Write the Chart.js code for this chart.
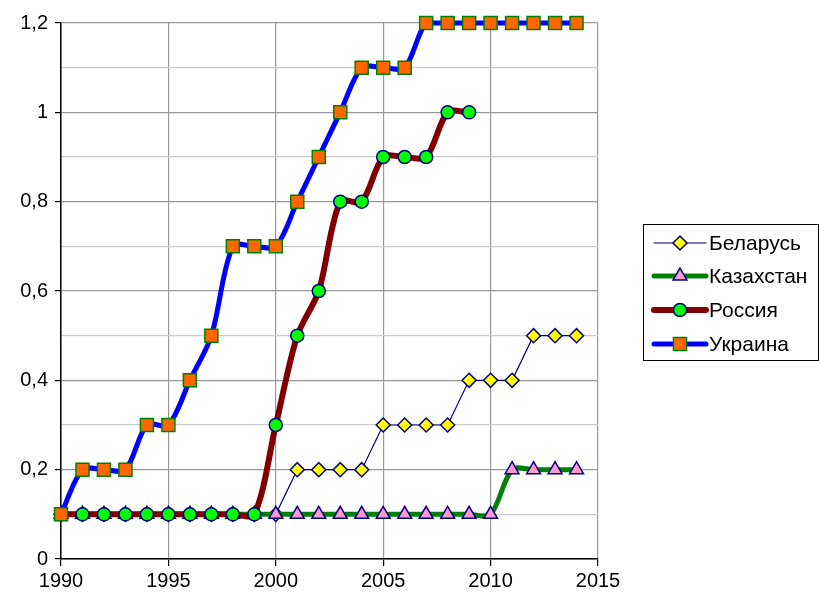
<!DOCTYPE html>
<html>
<head>
<meta charset="utf-8">
<script src="https://cdn.jsdelivr.net/npm/chart.js@4.4.0/dist/chart.umd.min.js"></script>
<style>
html,body{margin:0;padding:0;background:#fff;}
#wrap{position:relative;width:819px;height:596px;}
</style>
</head>
<body>
<div id="wrap"><canvas id="c" width="819" height="596"></canvas></div>
<script>
const years = [1990,1991,1992,1993,1994,1995,1996,1997,1998,1999,2000,2001,2002,2003,2004,2005,2006,2007,2008,2009,2010,2011,2012,2013,2014];
const seriesNames = ['Беларусь','Казахстан','Россия','Украина'];
const belarus    = [0.1,0.1,0.1,0.1,0.1,0.1,0.1,0.1,0.1,0.1,0.1,0.2,0.2,0.2,0.2,0.3,0.3,0.3,0.3,0.4,0.4,0.4,0.5,0.5,0.5];
const kazakhstan = [0.1,0.1,0.1,0.1,0.1,0.1,0.1,0.1,0.1,0.1,0.1,0.1,0.1,0.1,0.1,0.1,0.1,0.1,0.1,0.1,0.1,0.2,0.2,0.2,0.2];
const russia     = [0.1,0.1,0.1,0.1,0.1,0.1,0.1,0.1,0.1,0.1,0.3,0.5,0.6,0.8,0.8,0.9,0.9,0.9,1.0,1.0];
const ukraine    = [0.1,0.2,0.2,0.2,0.3,0.3,0.4,0.5,0.7,0.7,0.7,0.8,0.9,1.0,1.1,1.1,1.1,1.2,1.2,1.2,1.2,1.2,1.2,1.2,1.2];
const xTicks = [1990,1995,2000,2005,2010,2015];

const toXY = arr => arr.map((v,i)=>({x:years[i], y:v}));

const styles = [
  {line:'#000080', width:1.2, tension:0, point:'rectRot', fill:'#FFFF00', border:'#000080', r:7, order:3},
  {line:'#008000', width:5, tension:0.3, point:'triangle', fill:'#FF99CC', border:'#000080', r:8, order:2},
  {line:'#800000', width:6, tension:0.3, point:'circle', fill:'#00FF00', border:'#000080', r:6.5, order:1},
  {line:'#0000FF', width:5, tension:0.3, point:'rect', fill:'#FF6600', border:'#008000', r:9.2, order:0}
];
const allData = [belarus, kazakhstan, russia, ukraine];

const datasets = allData.map((d,i)=>({
  label: seriesNames[i],
  data: toXY(d),
  borderColor: styles[i].line,
  borderWidth: styles[i].width,
  tension: styles[i].tension,
  pointStyle: styles[i].point,
  pointBackgroundColor: styles[i].fill,
  pointBorderColor: styles[i].border,
  pointBorderWidth: 1.5,
  pointRadius: styles[i].r,
  pointHoverRadius: styles[i].r,
  order: styles[i].order,
  clip: false,
  fill: false
}));

function drawMarker(ctx, st, x, y){
  ctx.save();
  ctx.fillStyle = st.fill; ctx.strokeStyle = st.border; ctx.lineWidth = 1.5;
  ctx.beginPath();
  if(st.point==='rectRot'){const r=st.r; ctx.moveTo(x,y-r);ctx.lineTo(x+r,y);ctx.lineTo(x,y+r);ctx.lineTo(x-r,y);ctx.closePath();}
  else if(st.point==='triangle'){const r=st.r; ctx.moveTo(x,y-r);ctx.lineTo(x+r*0.866,y+r*0.5);ctx.lineTo(x-r*0.866,y+r*0.5);ctx.closePath();}
  else if(st.point==='circle'){ctx.arc(x,y,st.r,0,Math.PI*2);}
  else {const s=st.r*Math.SQRT1_2; ctx.rect(x-s,y-s,2*s,2*s);}
  ctx.fill(); ctx.stroke();
  ctx.restore();
}

const legendPlugin = {
  id:'boxLegend',
  afterDraw(chart){
    const ctx = chart.ctx;
    ctx.save();
    ctx.strokeStyle = '#000'; ctx.lineWidth = 1;
    ctx.strokeRect(643.5, 224.5, 175, 136);
    const ys = [243, 276, 310, 344];
    ctx.font = '21px "Liberation Sans", Arial, sans-serif';
    ctx.textBaseline = 'middle';
    seriesNames.forEach((n,i)=>{
      const st = styles[i];
      ctx.strokeStyle = st.line; ctx.lineWidth = st.width; ctx.lineCap='round';
      ctx.beginPath(); ctx.moveTo(654, ys[i]); ctx.lineTo(706, ys[i]); ctx.stroke();
      drawMarker(ctx, st, 680, ys[i]);
      ctx.fillStyle = '#000';
      ctx.fillText(n, 709, ys[i]+1);
    });
    ctx.restore();
  }
};

Chart.defaults.font.family = '"Liberation Sans", Arial, sans-serif';
Chart.defaults.font.size = 20;
Chart.defaults.color = '#000';

new Chart(document.getElementById('c'), {
  type:'line',
  data:{datasets},
  options:{
    responsive:false,
    animation:false,
    devicePixelRatio:1,
    layout:{padding:{top:23, right:221, left:0, bottom:0}},
    plugins:{legend:{display:false}, tooltip:{enabled:false}},
    scales:{
      x:{
        type:'linear', min:1990, max:2015,
        afterBuildTicks(s){ s.ticks = xTicks.map(v=>({value:v})); },
        afterFit(s){ s.height = 37; },
        grid:{color:'#999', lineWidth:1.2, tickLength:7, tickColor:'#000', drawOnChartArea:true},
        border:{color:'#000', width:1.5},
        ticks:{padding:3, maxRotation:0, color:'#000', callback(v){ return String(v); }}
      },
      y:{
        min:0, max:1.2,
        ticks:{stepSize:0.1, padding:7, color:'#000',
          callback(v){ const k=Math.round(v*10); return k%2===0 ? String(Math.round(v*10)/10).replace('.',',') : ''; }},
        afterFit(s){ s.width = 61; },
        grid:{
          color(c){ const k=Math.round(c.tick.value*10); return k%2===0 ? '#999' : '#ccc'; },
          lineWidth:1.2,
          tickLength:6,
          tickColor(c){ const k=Math.round(c.tick.value*10); return k%2===0 ? '#000' : 'rgba(0,0,0,0)'; }
        },
        border:{color:'#000', width:1.5}
      }
    }
  },
  plugins:[legendPlugin]
});
</script>
</body>
</html>
